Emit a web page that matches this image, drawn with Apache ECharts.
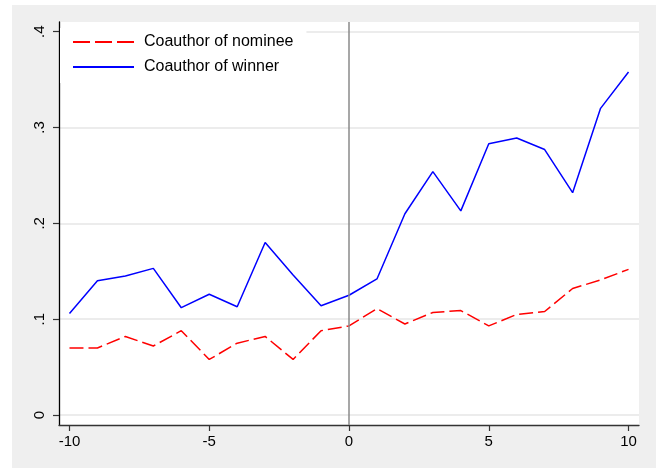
<!DOCTYPE html>
<html>
<head>
<meta charset="utf-8">
<script src="https://cdn.jsdelivr.net/npm/echarts@6/dist/echarts.min.js"></script>
<style>
  html, body { margin: 0; padding: 0; background: #ffffff; }
  #chart { width: 660px; height: 468px; }
</style>
</head>
<body>
<div id="chart"></div>
<script>
// Years relative to the prize event
const years = [-10, -9, -8, -7, -6, -5, -4, -3, -2, -1, 0, 1, 2, 3, 4, 5, 6, 7, 8, 9, 10];

// Share of coauthors, by group
const nomineeValues = [0.070, 0.070, 0.082, 0.072, 0.088, 0.058, 0.075, 0.082, 0.058, 0.088, 0.093,
                       0.111, 0.095, 0.107, 0.109, 0.093, 0.105, 0.108, 0.132, 0.141, 0.152];
const winnerValues  = [0.106, 0.140, 0.145, 0.153, 0.112, 0.126, 0.113, 0.180, 0.146, 0.114, 0.125,
                       0.142, 0.210, 0.254, 0.213, 0.283, 0.289, 0.277, 0.232, 0.320, 0.358];

const seriesNames = ['Coauthor of nominee', 'Coauthor of winner'];
const xTicks = [-10, -5, 0, 5, 10];
const yTicks = [0, 0.1, 0.2, 0.3, 0.4];
const yTickLabels = ['0', '.1', '.2', '.3', '.4'];

const FONT = '"Liberation Sans", Arial, sans-serif';

const chart = echarts.init(document.getElementById('chart'), null, { renderer: 'canvas' });

const pairs = (vals) => years.map((y, i) => [y, vals[i]]);

chart.setOption({
  animation: false,
  backgroundColor: '#ffffff',
  graphic: [{
    type: 'rect',
    z: -10,
    silent: true,
    shape: { x: 12, y: 5, width: 644, height: 463 },
    style: { fill: '#efefef' }
  }],
  grid: {
    left: 59, right: 21, top: 22, bottom: 43,
    show: true, backgroundColor: '#ffffff', borderWidth: 0
  },
  legend: {
    orient: 'vertical',
    left: 60, top: 28,
    padding: [6, 13, 8, 12],
    backgroundColor: '#ffffff',
    itemWidth: 61, itemHeight: 14, itemGap: 9,
    itemStyle: { opacity: 0 },
    textStyle: { fontFamily: FONT, fontSize: 16, color: '#000000', padding: [0, 0, 0, 5] },
    data: [
      { name: seriesNames[0], lineStyle: { type: [17, 5] } },
      { name: seriesNames[1] }
    ]
  },
  xAxis: {
    type: 'value',
    min: -10.375, max: 10.375,
    axisLine: { show: true, onZero: false, lineStyle: { color: '#333333', width: 1.3 } },
    axisTick: { show: true, length: 6, customValues: xTicks, lineStyle: { color: '#333333', width: 1.2 } },
    axisLabel: { customValues: xTicks, margin: 9, fontFamily: FONT, fontSize: 15, color: '#000000' },
    splitLine: { show: false }
  },
  yAxis: {
    type: 'value',
    min: -0.0104, max: 0.4101,
    axisLine: { show: true, onZero: false, lineStyle: { color: '#000000', width: 1.3 } },
    axisTick: { show: true, length: 6, customValues: yTicks, lineStyle: { color: '#333333', width: 1.2 } },
    axisLabel: {
      customValues: yTicks, rotate: 90, margin: 12,
      fontFamily: FONT, fontSize: 15, color: '#000000',
      formatter: (v) => yTickLabels[yTicks.findIndex(t => Math.abs(t - v) < 1e-6)] ?? ''
    },
    splitLine: { show: true, lineStyle: { color: '#e6e6e6', width: 1.5 } }
  },
  series: [
    {
      name: seriesNames[0],
      type: 'line',
      data: pairs(nomineeValues),
      symbol: 'none',
      lineStyle: { color: '#ff0000', width: 1.5, type: [14, 5] },
      itemStyle: { color: '#ff0000' },
      z: 3,
      markLine: {
        silent: true,
        symbol: 'none',
        label: { show: false },
        lineStyle: { color: '#8a8a8a', width: 1.5, type: 'solid' },
        data: [{ xAxis: 0 }]
      }
    },
    {
      name: seriesNames[1],
      type: 'line',
      data: pairs(winnerValues),
      symbol: 'none',
      lineStyle: { color: '#0000ff', width: 1.5 },
      itemStyle: { color: '#0000ff' },
      z: 4
    }
  ]
});
</script>
</body>
</html>
